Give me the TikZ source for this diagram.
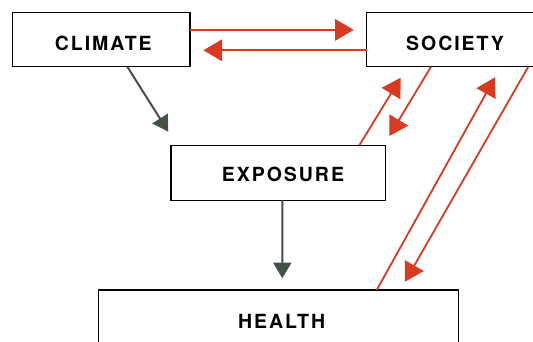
\documentclass[tikz,border=0pt]{standalone}
\usepackage{fontspec}
\usetikzlibrary{arrows.meta}
\newfontfamily\labfont[LetterSpace=10]{TeX Gyre Heros}
\definecolor{redarrow}{RGB}{217,58,33}
\definecolor{darkarrow}{RGB}{68,82,70}
\tikzset{
  box/.style={draw=black, line width=1.2pt, fill=white, inner sep=0pt, outer sep=0pt, rectangle},
  lab/.style={anchor=base, inner sep=0pt, font=\labfont\bfseries\fontsize{19.5}{19.5}\selectfont, text=black},
  redarr/.style={draw=redarrow, line width=1.8pt, -{Triangle[length=18.6pt, width=21.5pt]}, fill=redarrow},
  darkarr/.style={draw=darkarrow, line width=2pt, -{Triangle[length=15.6pt, width=18pt]}, fill=darkarrow}
}
\begin{document}
\begin{tikzpicture}[x=1pt, y=-1pt]
\useasboundingbox (0,0) rectangle (533,341);
\clip (0,0) rectangle (533,341);
% boxes
\node[box, minimum width=177.5pt, minimum height=54.4pt] (climate) at (101.25,39.5) {};
\node[box, minimum width=178pt, minimum height=54.4pt] (society) at (455.7,39.5) {};
\node[box, minimum width=214.7pt, minimum height=55pt] (exposure) at (278.35,172.8) {};
\node[box, minimum width=360pt, minimum height=62pt] (health) at (278.3,321) {};
% labels
\node[lab] (tclimate) at (103.3,50.7) {CLIMATE};
\node[lab] (tsociety) at (455,50.7) {SOCIETY};
\node[lab] (texposure) at (283,181.7) {EXPOSURE};
\node[lab] (thealth) at (281.7,328.3) {HEALTH};
% free tip ends
\coordinate (t1) at (353.7,29.9);
\coordinate (t2) at (203.4,50.3);
\coordinate (t3) at (400.7,77.7);
\coordinate (t4) at (389.3,136);
\coordinate (t5) at (495,77.3);
\coordinate (t6) at (405,281.7);
\coordinate (t7) at (168.3,131.7);
\coordinate (t8) at (282.3,278.3);
% connectors
\draw[redarr] ([yshift=9.6pt]climate.east) -- (t1);
\draw[redarr] ([yshift=-10.8pt]society.west) -- (t2);
\draw[redarr] ([xshift=188.3pt]exposure.north west) -- (t3);
\draw[redarr] ([xshift=64.3pt]society.south west) -- (t4);
\draw[redarr] ([xshift=278.4pt]health.north west) -- (t5);
\draw[redarr] ([xshift=161.6pt]society.south west) -- (t6);
\draw[darkarr] ([xshift=114.8pt]climate.south west) -- (t7);
\draw[darkarr] ([xshift=111.3pt]exposure.south west) -- (t8);
\end{tikzpicture}
\end{document}
